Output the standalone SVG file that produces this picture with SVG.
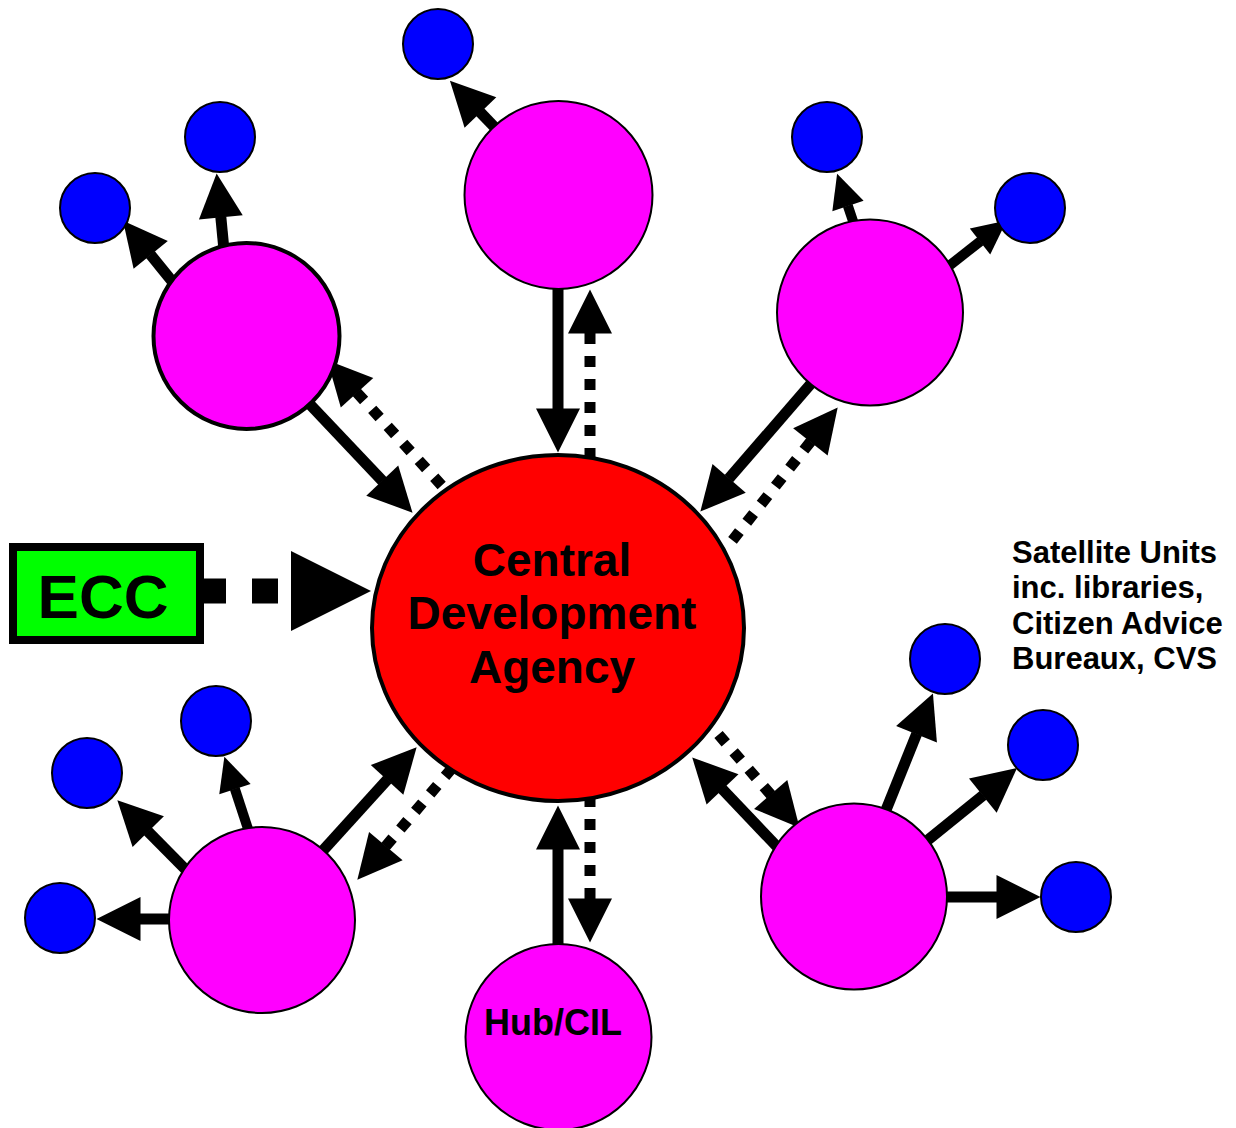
<svg xmlns="http://www.w3.org/2000/svg" width="1236" height="1128" viewBox="0 0 1236 1128">
<defs>
<marker id="ah" markerUnits="userSpaceOnUse" markerWidth="46" markerHeight="46" refX="0.5" refY="22" orient="auto" overflow="visible"><path d="M0,0 L44,22 L0,44 z" fill="#000"/></marker>
<marker id="ahr" markerUnits="userSpaceOnUse" markerWidth="46" markerHeight="46" refX="0.5" refY="22" orient="auto-start-reverse" overflow="visible"><path d="M0,0 L44,22 L0,44 z" fill="#000"/></marker>
<marker id="ahs" markerUnits="userSpaceOnUse" markerWidth="36" markerHeight="36" refX="0.5" refY="16.5" orient="auto" overflow="visible"><path d="M0,0 L34,16.5 L0,33 z" fill="#000"/></marker>
</defs>
<style>
.s{fill:none;stroke:#000;stroke-width:11;marker-end:url(#ah)}
.ss{fill:none;stroke:#000;stroke-width:10;marker-end:url(#ahs)}
.d{fill:none;stroke:#000;stroke-width:11;stroke-dasharray:11 12;marker-start:url(#ahr)}
.hub{fill:#FF00FF;stroke:#000;stroke-width:2}
.sat{fill:#0000FF;stroke:#000;stroke-width:2}
.t{font-family:"Liberation Sans",Arial,sans-serif;font-weight:bold;fill:#000}
</style>
<g id="connectors">
<path class="s" d="M558,280 L558,409"/>
<path class="d" d="M590,333 L590,460"/>
<path class="s" d="M302,396 L382.6,481.1"/>
<path class="d" d="M356.7,392.4 L444,488"/>
<path class="s" d="M815,379 L728.8,478.7"/>
<path class="d" d="M810.7,441.5 L728,546"/>
<path class="s" d="M318,856 L387.4,779.5"/>
<path class="d" d="M385.5,846.5 L453,767"/>
<path class="s" d="M558,955 L558,849"/>
<path class="d" d="M590,899 L590,795"/>
<path class="s" d="M784,854 L722.2,789"/>
<path class="d" d="M771,794.9 L712,727"/>
<path d="M200,591 L292,591" fill="none" stroke="#000" stroke-width="25" stroke-dasharray="26 26"/>
<polygon points="291,551 371,591 291,631" fill="#000"/>
<path class="s" d="M505,138 L480.1,112.1"/>
<path class="s" d="M224,250 L220.8,216.8"/>
<path class="s" d="M184,296 L150.4,254.5"/>
<path class="ss" d="M856,230 L847.8,205.6"/>
<path class="ss" d="M940,273 L980.4,241.2"/>
<path class="s" d="M882,820 L916.7,733.8"/>
<path class="s" d="M918,848 L983.2,795.3"/>
<path class="s" d="M935,897 L997,897"/>
<path class="ss" d="M250,835 L234.8,788.6"/>
<path class="s" d="M192,876 L147.9,831.3"/>
<path class="s" d="M178,919 L140,919"/>
</g>
<g id="cda">
<ellipse cx="558" cy="628" rx="186" ry="173" fill="#FF0000" stroke="#000" stroke-width="4"/>
<text class="t" x="552" y="576" font-size="46" text-anchor="middle">Central</text>
<text class="t" x="552" y="629" font-size="46" text-anchor="middle">Development</text>
<text class="t" x="552" y="683" font-size="46" text-anchor="middle">Agency</text>
</g>
<g id="ecc">
<rect x="13" y="547" width="187" height="93" fill="#00FF00" stroke="#000" stroke-width="8"/>
<text class="t" x="103" y="618" font-size="62" text-anchor="middle">ECC</text>
</g>
<g id="hub-top"><circle class="hub" cx="558.5" cy="195" r="94"/></g>
<g id="hub-upper-left"><circle class="hub" cx="246.5" cy="336" r="93" style="stroke-width:4"/></g>
<g id="hub-upper-right"><circle class="hub" cx="870" cy="312.5" r="93"/></g>
<g id="hub-lower-left"><circle class="hub" cx="262" cy="920" r="93"/></g>
<g id="hub-lower-right"><circle class="hub" cx="854" cy="896.5" r="93"/></g>
<g id="hub-cil"><circle class="hub" cx="558.5" cy="1037" r="93"/>
<text class="t" x="553" y="1035" font-size="36" text-anchor="middle">Hub/CIL</text></g>
<g id="sat-1"><circle class="sat" cx="438" cy="44" r="35"/></g>
<g id="sat-2"><circle class="sat" cx="220" cy="137" r="35"/></g>
<g id="sat-3"><circle class="sat" cx="95" cy="208" r="35"/></g>
<g id="sat-4"><circle class="sat" cx="827" cy="137" r="35"/></g>
<g id="sat-5"><circle class="sat" cx="1030" cy="208" r="35"/></g>
<g id="sat-6"><circle class="sat" cx="945" cy="659" r="35"/></g>
<g id="sat-7"><circle class="sat" cx="1043" cy="745" r="35"/></g>
<g id="sat-8"><circle class="sat" cx="1076" cy="897" r="35"/></g>
<g id="sat-9"><circle class="sat" cx="216" cy="721" r="35"/></g>
<g id="sat-10"><circle class="sat" cx="87" cy="773" r="35"/></g>
<g id="sat-11"><circle class="sat" cx="60" cy="918" r="35"/></g>
<g id="legend">
<text class="t" x="1012" y="563" font-size="31">Satellite Units</text>
<text class="t" x="1012" y="598" font-size="31">inc. libraries,</text>
<text class="t" x="1012" y="634" font-size="31">Citizen Advice</text>
<text class="t" x="1012" y="669" font-size="31">Bureaux, CVS</text>
</g>
</svg>
